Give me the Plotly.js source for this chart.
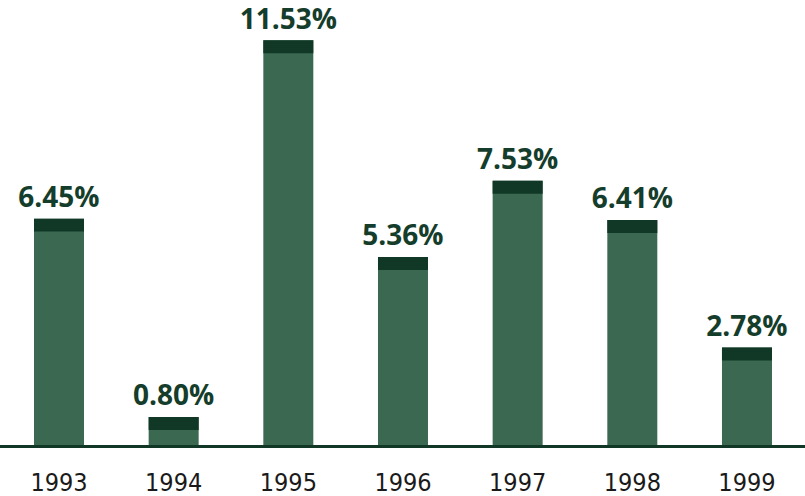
<!DOCTYPE html>
<html>
<head>
<meta charset="utf-8">
<script src="https://cdn.plot.ly/plotly-3.0.1.min.js"></script>
<style>html,body{margin:0;padding:0;background:#fff;}#chart{width:805px;height:496px;}</style>
</head>
<body>
<div id="chart"></div>
<script>
const years = ["1993", "1994", "1995", "1996", "1997", "1998", "1999"];
const returns = [6.45, 0.80, 11.53, 5.36, 7.53, 6.41, 2.78];
const labels = ["6.45%", "0.80%", "11.53%", "5.36%", "7.53%", "6.41%", "2.78%"];

const capH = 0.37; // style: thickness of dark cap, in value units
const barColor = "#3a6850";
const capColor = "#113826";
const textColor = "#153d2b";

const bodyTrace = {
  type: "bar", x: years, y: returns,
  marker: {color: barColor, line: {width: 0}},
  width: 0.436, hoverinfo: "skip"
};
const capTrace = {
  type: "bar", x: years, y: years.map(() => capH),
  base: returns.map(v => v - capH),
  marker: {color: capColor, line: {width: 0}},
  width: 0.436, hoverinfo: "skip"
};
const labelTrace = {
  type: "scatter", mode: "markers+text", x: years, y: returns,
  text: labels, textposition: "top center",
  marker: {size: 6, opacity: 0},
  textfont: {family: "Open Sans", size: 28, color: textColor, weight: 700},
  cliponaxis: false, hoverinfo: "skip"
};

const layout = {
  width: 805, height: 496,
  margin: {l: 0, r: 0, t: 0, b: 51},
  paper_bgcolor: "#fff", plot_bgcolor: "#fff",
  barmode: "overlay", showlegend: false,
  xaxis: {
    type: "category", range: [-0.5145, 6.506],
    showline: true, linecolor: capColor, linewidth: 3,
    ticks: "", showgrid: false, zeroline: false,
    tickfont: {family: "DejaVu Sans Condensed", size: 25, color: "#1a1a1a"},
    ticklabelstandoff: 13
  },
  yaxis: {
    range: [0, 12.68], visible: false, showgrid: false, zeroline: false, fixedrange: true
  }
};

Plotly.newPlot("chart", [bodyTrace, capTrace, labelTrace], layout, {staticPlot: true, displayModeBar: false});
</script>
</body>
</html>
